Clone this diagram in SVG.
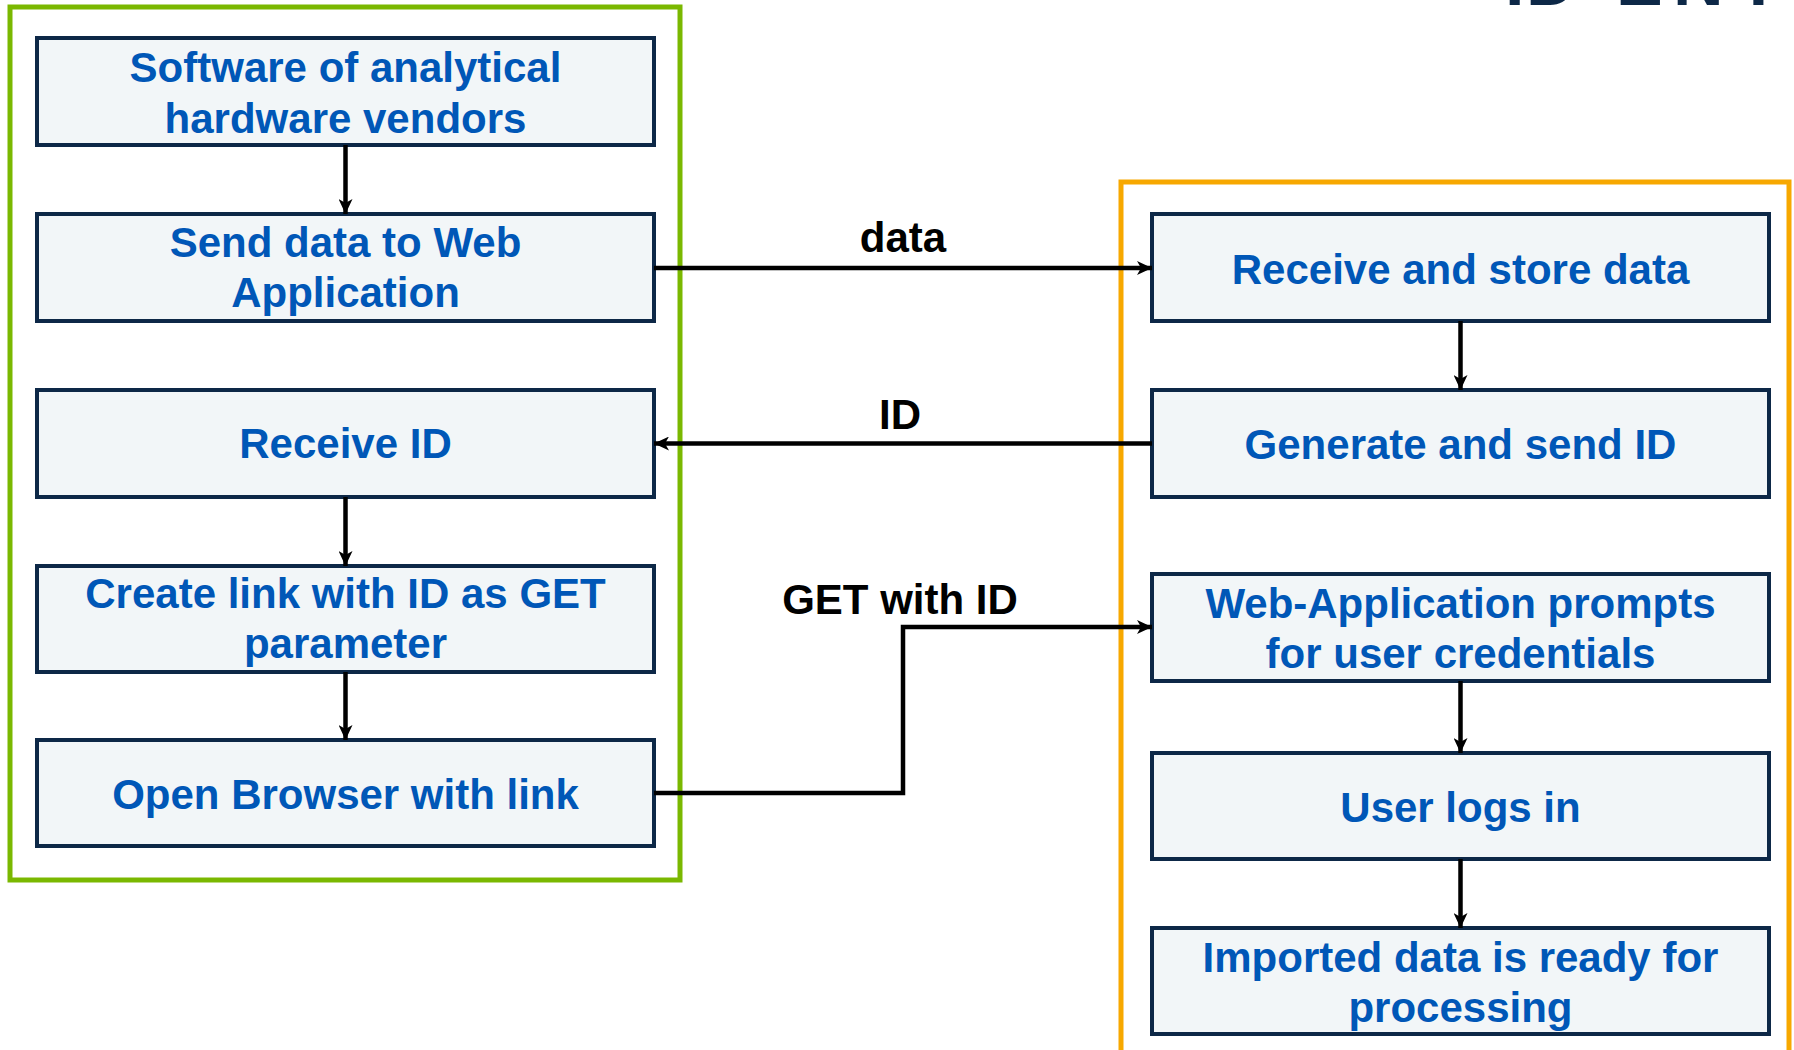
<svg xmlns="http://www.w3.org/2000/svg" width="1794" height="1050" viewBox="0 0 1794 1050">
  <defs>
    <style>
      .lane-client { fill: none; stroke: #7ab800; stroke-width: 5; }
      .lane-server { fill: none; stroke: #f7a800; stroke-width: 5; }
      .box { fill: #f2f6f8; stroke: #0d2847; stroke-width: 4; }
      .box-text { font-family: "Liberation Sans", Arial, sans-serif; font-weight: bold; font-size: 42px; fill: #0057b7; text-anchor: middle; }
      .edge { fill: none; stroke: #000000; stroke-width: 4.5; }
      .edge-label { font-family: "Liberation Sans", Arial, sans-serif; font-weight: bold; font-size: 42px; fill: #000000; text-anchor: middle; }
      .title { font-family: "Liberation Sans", Arial, sans-serif; font-weight: bold; font-size: 70px; fill: #0d2847; }
    </style>
    <marker id="arrow" viewBox="0 0 15 14" markerUnits="userSpaceOnUse" markerWidth="15" markerHeight="14" refX="15" refY="7" orient="auto">
      <path d="M0,0 L15,7 L0,14 L4,7 z" fill="#000000"/>
    </marker>
  </defs>

  <rect width="1794" height="1050" fill="#ffffff"/>

  <!-- page title, running off the top edge -->
  <text class="title" x="1505 1526 1616 1673 1737" y="5">IDENT</text>

  <!-- swimlanes -->
  <rect id="lane-client" class="lane-client" x="10" y="7" width="670" height="873"/>
  <rect id="lane-server" class="lane-server" x="1121" y="182" width="668" height="900"/>

  <!-- client-side steps -->
  <g id="software-vendors">
    <rect class="box" x="37" y="38" width="617" height="107"/>
    <text class="box-text" x="345.5" y="82">Software of analytical</text>
    <text class="box-text" x="345.5" y="133">hardware vendors</text>
  </g>
  <g id="send-data">
    <rect class="box" x="37" y="214" width="617" height="107"/>
    <text class="box-text" x="345.5" y="257">Send data to Web</text>
    <text class="box-text" x="345.5" y="307">Application</text>
  </g>
  <g id="receive-id">
    <rect class="box" x="37" y="390" width="617" height="107"/>
    <text class="box-text" x="345.5" y="458">Receive ID</text>
  </g>
  <g id="create-link">
    <rect class="box" x="37" y="566" width="617" height="106"/>
    <text class="box-text" x="345.5" y="608">Create link with ID as GET</text>
    <text class="box-text" x="345.5" y="658">parameter</text>
  </g>
  <g id="open-browser">
    <rect class="box" x="37" y="740" width="617" height="106"/>
    <text class="box-text" x="345.5" y="809">Open Browser with link</text>
  </g>

  <!-- server-side steps -->
  <g id="receive-store">
    <rect class="box" x="1152" y="214" width="617" height="107"/>
    <text class="box-text" x="1460.5" y="284">Receive and store data</text>
  </g>
  <g id="generate-id">
    <rect class="box" x="1152" y="390" width="617" height="107"/>
    <text class="box-text" x="1460.5" y="459">Generate and send ID</text>
  </g>
  <g id="prompt-credentials">
    <rect class="box" x="1152" y="574" width="617" height="107"/>
    <text class="box-text" x="1460.5" y="618">Web-Application prompts</text>
    <text class="box-text" x="1460.5" y="668">for user credentials</text>
  </g>
  <g id="user-login">
    <rect class="box" x="1152" y="753" width="617" height="106"/>
    <text class="box-text" x="1460.5" y="822">User logs in</text>
  </g>
  <g id="data-ready">
    <rect class="box" x="1152" y="928" width="617" height="106"/>
    <text class="box-text" x="1460.5" y="972">Imported data is ready for</text>
    <text class="box-text" x="1460.5" y="1022">processing</text>
  </g>

  <!-- connectors -->
  <g id="connectors">
    <path class="edge" d="M345.5,145 V214" marker-end="url(#arrow)"/>
    <path class="edge" d="M345.5,497 V566" marker-end="url(#arrow)"/>
    <path class="edge" d="M345.5,672 V740" marker-end="url(#arrow)"/>
    <path class="edge" d="M1460.5,321 V390" marker-end="url(#arrow)"/>
    <path class="edge" d="M1460.5,681 V753" marker-end="url(#arrow)"/>
    <path class="edge" d="M1460.5,859 V928" marker-end="url(#arrow)"/>

    <path class="edge" d="M654,268 H1152" marker-end="url(#arrow)"/>
    <text class="edge-label" x="903" y="252">data</text>

    <path class="edge" d="M1152,443.5 H654" marker-end="url(#arrow)"/>
    <text class="edge-label" x="900" y="429">ID</text>

    <path class="edge" d="M654,793 H903 V627 H1152" marker-end="url(#arrow)"/>
    <text class="edge-label" x="900" y="614">GET with ID</text>
  </g>
</svg>
